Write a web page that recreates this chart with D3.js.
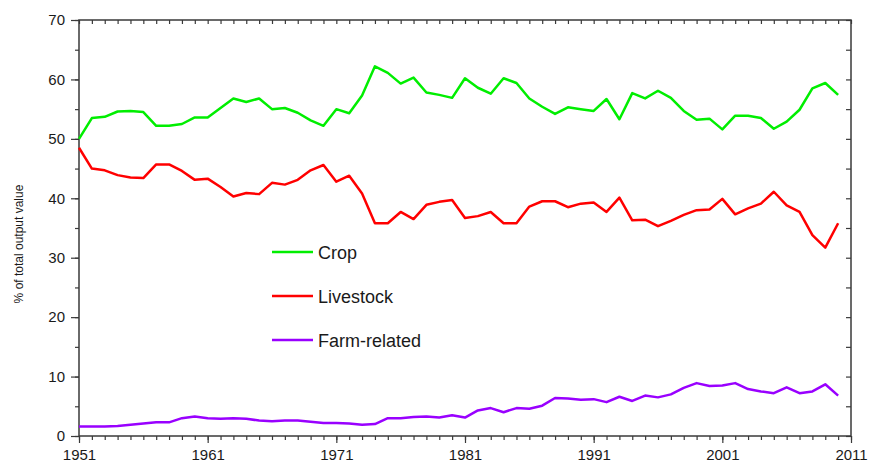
<!DOCTYPE html>
<html>
<head>
<meta charset="utf-8">
<script src="https://cdn.jsdelivr.net/npm/d3@7"></script>
<style>
  html, body { margin: 0; padding: 0; background: #fff; }
  svg { display: block; font-family: Arial, "Liberation Sans", sans-serif; }
</style>
</head>
<body>
<svg id="chart" width="869" height="465"></svg>
<script>
// Share of total output value by sector, 1951–2010
const years = d3.range(1951, 2011);
const crop = [
  50.0, 53.5, 53.7, 54.6, 54.7, 54.5, 52.2, 52.2, 52.5, 53.6,
  53.6, 55.2, 56.8, 56.2, 56.8, 55.0, 55.2, 54.4, 53.1, 52.2,
  55.0, 54.3, 57.3, 62.2, 61.1, 59.3, 60.3, 57.8, 57.4, 56.9,
  60.2, 58.6, 57.6, 60.2, 59.4, 56.8, 55.4, 54.2, 55.3, 55.0,
  54.7, 56.7, 53.3, 57.7, 56.8, 58.1, 56.9, 54.7, 53.2, 53.4,
  51.6, 53.9, 53.9, 53.5, 51.7, 52.9, 54.9, 58.5, 59.4, 57.4
];
const livestock = [
  48.5, 45.0, 44.7, 43.9, 43.5, 43.4, 45.7, 45.7, 44.6, 43.1,
  43.3, 41.9, 40.3, 40.9, 40.7, 42.6, 42.3, 43.1, 44.7, 45.6,
  42.8, 43.8, 40.8, 35.8, 35.8, 37.7, 36.5, 38.9, 39.4, 39.7,
  36.7, 37.0, 37.7, 35.8, 35.8, 38.6, 39.5, 39.5, 38.5, 39.1,
  39.3, 37.7, 40.1, 36.3, 36.4, 35.3, 36.2, 37.2, 38.0, 38.1,
  39.9, 37.3, 38.3, 39.1, 41.1, 38.8, 37.7, 33.8, 31.7, 35.8
];
const farmRelated = [
  1.6, 1.6, 1.6, 1.7, 1.9, 2.1, 2.3, 2.3, 3.0, 3.3,
  3.0, 2.9, 3.0, 2.9, 2.6, 2.5, 2.6, 2.6, 2.4, 2.2,
  2.2, 2.1, 1.9, 2.0, 3.0, 3.0, 3.2, 3.3, 3.1, 3.5,
  3.1, 4.3, 4.7, 4.0, 4.7, 4.6, 5.1, 6.4, 6.3, 6.1,
  6.2, 5.7, 6.6, 5.9, 6.8, 6.5, 7.0, 8.1, 8.9, 8.4,
  8.5, 8.9, 7.9, 7.5, 7.2, 8.2, 7.2, 7.5, 8.7, 6.8
];
const seriesNames = ["Crop", "Livestock", "Farm-related"];
const seriesColors = ["#00ee00", "#ff0000", "#9900ff"];
const xMajorTicks = [1951, 1961, 1971, 1981, 1991, 2001, 2011];
const xMinorTicks = d3.range(1951, 2012);
const yMajorTicks = [0, 10, 20, 30, 40, 50, 60, 70];
const yMinorTicks = d3.range(0, 71, 5);
const yLabel = "% of total output value";

const series = [crop, livestock, farmRelated].map((vals, k) => ({
  name: seriesNames[k],
  color: seriesColors[k],
  values: vals.map((v, i) => ({ year: years[i], value: v }))
}));

const svg = d3.select("#chart");
const margin = { top: 20, right: 18, bottom: 29, left: 79 };
const W = 869, H = 465;
const x = d3.scaleLinear().domain([1951, 2011]).range([margin.left, W - margin.right]);
const y = d3.scaleLinear().domain([0, 70]).range([H - margin.bottom, margin.top]);

const axisColor = "#3a3a3a";
function styleAxis(g) {
  g.select(".domain").remove();
  g.selectAll(".tick line").attr("stroke", axisColor).attr("stroke-width", 1.2);
  g.selectAll(".tick text").attr("fill", "#1a1a1a").style("font-size", "15px")
    .style("font-family", "Arial, 'Liberation Sans', sans-serif");
}

// bottom axis: labelled decades, yearly minor ticks
svg.append("g").attr("transform", `translate(0,${y(0)})`)
  .call(d3.axisBottom(x).tickValues(xMinorTicks).tickSize(4).tickFormat(""))
  .call(styleAxis);
svg.append("g").attr("transform", `translate(0,${y(0)})`)
  .call(d3.axisBottom(x).tickValues(xMajorTicks).tickSize(7).tickPadding(6).tickFormat(d3.format("d")))
  .call(styleAxis);

// top axis mirrors ticks inward
svg.append("g").attr("transform", `translate(0,${y(70)})`)
  .call(d3.axisTop(x).tickValues(xMinorTicks).tickSize(-4).tickFormat(""))
  .call(styleAxis);

// left axis
svg.append("g").attr("transform", `translate(${x(1951)},0)`)
  .call(d3.axisLeft(y).tickValues(yMinorTicks).tickSize(4).tickFormat(""))
  .call(styleAxis);
svg.append("g").attr("transform", `translate(${x(1951)},0)`)
  .call(d3.axisLeft(y).tickValues(yMajorTicks).tickSize(8).tickPadding(6))
  .call(styleAxis);

// right axis, ticks inward
svg.append("g").attr("transform", `translate(${x(2011)},0)`)
  .call(d3.axisRight(y).tickValues(yMinorTicks).tickSize(-5).tickFormat(""))
  .call(styleAxis);

// frame
svg.append("rect")
  .attr("x", x(1951)).attr("y", y(70))
  .attr("width", x(2011) - x(1951)).attr("height", y(0) - y(70))
  .attr("fill", "none").attr("stroke", axisColor).attr("stroke-width", 1.5);

// series lines
const line = d3.line().x(d => x(d.year)).y(d => y(d.value));
svg.append("g").selectAll("path").data(series).join("path")
  .attr("d", d => line(d.values))
  .attr("fill", "none")
  .attr("stroke", d => d.color)
  .attr("stroke-width", 2.5)
  .attr("stroke-linejoin", "round");

// y axis title
svg.append("text")
  .attr("transform", `translate(23,${(y(0) + y(70)) / 2 + 16}) rotate(-90)`)
  .attr("text-anchor", "middle")
  .attr("fill", "#1a1a1a")
  .style("font-size", "12px")
  .text(yLabel);

// legend
const legend = svg.append("g");
const legendRows = legend.selectAll("g").data(series).join("g")
  .attr("transform", (d, i) => `translate(272,${252 + i * 44})`);
legendRows.append("line")
  .attr("x1", 0).attr("x2", 41).attr("y1", 0).attr("y2", 0)
  .attr("stroke", d => d.color).attr("stroke-width", 2.5);
legendRows.append("text")
  .attr("x", 46).attr("y", 6.5)
  .attr("fill", "#1a1a1a")
  .style("font-size", "18px")
  .text(d => d.name);
</script>
</body>
</html>
